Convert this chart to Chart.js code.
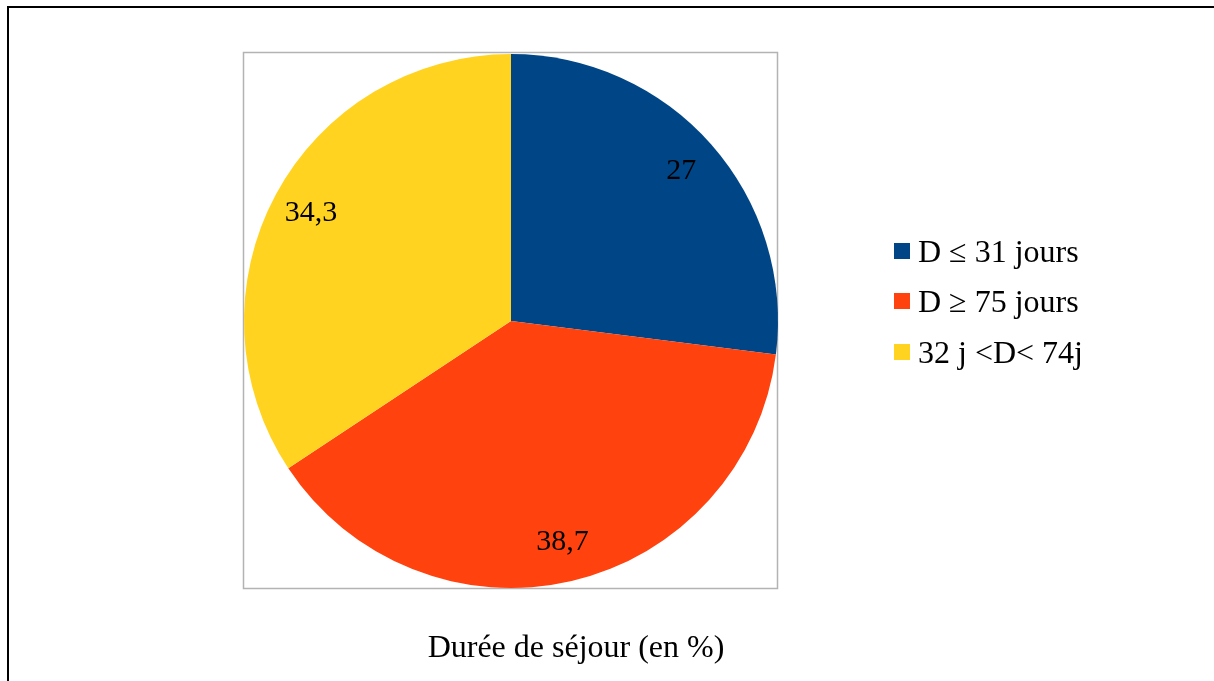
<!DOCTYPE html>
<html>
<head>
<meta charset="utf-8">
<script src="https://cdn.jsdelivr.net/npm/chart.js@4"></script>
<style>
html,body{margin:0;padding:0;background:#fff;}
#wrap{width:1214px;height:681px;position:relative;}
</style>
</head>
<body>
<div id="wrap"><canvas id="c" width="1214" height="681"></canvas></div>
<script>
const categories = ["D \u2264 31 jours", "D \u2265 75 jours", "32 j <D< 74j"];
const values = [27, 38.7, 34.3];
const valueLabels = ["27", "38,7", "34,3"];
const colors = ["#004586", "#FF420E", "#FFD320"];
const title = "Durée de séjour (en %)";

const FONT = "'Liberation Serif', 'Times New Roman', serif";

const decor = {
  id: 'decor',
  beforeDraw(chart) {
    const ctx = chart.ctx;
    ctx.save();
    ctx.fillStyle = '#fff';
    ctx.fillRect(0, 0, chart.width, chart.height);
    // outer frame
    ctx.strokeStyle = '#000';
    ctx.lineWidth = 2;
    ctx.beginPath();
    ctx.moveTo(8, 700);
    ctx.lineTo(8, 7);
    ctx.lineTo(1230, 7);
    ctx.stroke();
    // gray plot box
    ctx.strokeStyle = '#b3b3b3';
    ctx.lineWidth = 1.5;
    ctx.strokeRect(243.5, 52.5, 534, 536);
    ctx.restore();
  },
  afterDatasetsDraw(chart) {
    const ctx = chart.ctx;
    const meta = chart.getDatasetMeta(0);
    ctx.save();
    ctx.fillStyle = '#000';
    ctx.font = "30px " + FONT;
    ctx.textAlign = 'center';
    ctx.textBaseline = 'middle';
    meta.data.forEach((arc, i) => {
      const p = arc.getProps(['x', 'y', 'startAngle', 'endAngle', 'outerRadius'], true);
      const mid = (p.startAngle + p.endAngle) / 2;
      const r = p.outerRadius * 0.85;
      ctx.fillText(valueLabels[i], p.x + Math.cos(mid) * r, p.y + Math.sin(mid) * r);
    });
    // legend
    ctx.textAlign = 'left';
    ctx.textBaseline = 'alphabetic';
    ctx.font = "32px " + FONT;
    const ys = [262, 312, 363];
    categories.forEach((c, i) => {
      ctx.fillStyle = colors[i];
      ctx.fillRect(894, ys[i] - 19, 16, 16);
      ctx.fillStyle = '#000';
      ctx.fillText(c, 918, ys[i]);
    });
    // title
    ctx.textAlign = 'center';
    ctx.font = "32px " + FONT;
    ctx.fillText(title, 576, 657);
    ctx.restore();
  }
};

new Chart(document.getElementById('c'), {
  type: 'pie',
  data: {
    labels: categories,
    datasets: [{
      data: values,
      backgroundColor: colors,
      borderWidth: 0
    }]
  },
  options: {
    responsive: false,
    animation: false,
    layout: { padding: { left: 244, right: 436, top: 54, bottom: 93 } },
    plugins: {
      legend: { display: false },
      tooltip: { enabled: false },
      title: { display: false }
    }
  },
  plugins: [decor]
});
</script>
</body>
</html>
